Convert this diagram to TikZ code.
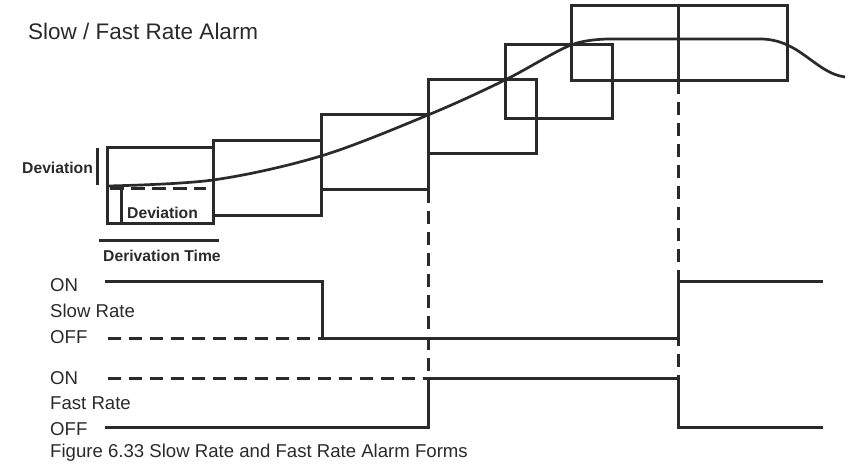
\documentclass[tikz,border=0pt]{standalone}
\usepackage{fontspec}
\setmainfont{Liberation Sans}
\usepackage{tikz}
\usetikzlibrary{calc, positioning}
\definecolor{ink}{HTML}{2A2A2A}
\tikzset{>=latex}
\tikzset{
  sig/.style={ink, line width=3pt, line cap=rect},
  dsig/.style={ink, line width=3pt, dash pattern=on 13pt off 8pt},
  win/.style={ink, line width=3pt},
  lbl/.style={ink, inner sep=0pt, anchor=base west, font=\fontsize{18.6}{21}\selectfont},
  blbl/.style={ink, inner sep=0pt, anchor=base west, font=\fontsize{15.7}{18}\selectfont\bfseries},
}

\begin{document}
\begin{tikzpicture}[x=1pt, y=-1pt]
  \useasboundingbox (0, 0) rectangle (850, 465); %
  % time marks
  \coordinate (tA) at (322, 0); %
  \coordinate (tB) at (428, 0); %
  \coordinate (tC) at (678, 0); %
  \coordinate (tEnd) at (821, 0); %
  \coordinate (tStart) at (106, 0); %
  % signal levels
  \coordinate (slowOn) at (0, 281); \coordinate (slowOff) at (0, 338); %
  \coordinate (fastOn) at (0, 378); \coordinate (fastOff) at (0, 427); %

  \node[lbl, font=\fontsize{22.5}{25}\selectfont] (title) at (28, 40) {Slow / Fast Rate Alarm}; %

  % derivation windows
  \draw[win] (107, 148) rectangle (213, 223); %
  \draw[win] (213, 141) rectangle (321, 215); %
  \draw[win] (321, 115) rectangle (428, 189); %
  \draw[win] (428, 80) rectangle (536, 154); %
  \draw[win] (505, 45) rectangle (612, 119); %
  \draw[win] (571, 6) rectangle (787, 81); %
  \draw[win] (tC |- 0, 6) -- (tC |- 0, 81); %

  % process value
  \draw[win, line width=2.7pt] plot[smooth, tension=0.55] coordinates
    {(107, 186) (213, 180) (321, 156) (428, 115) (505, 80) (571, 45) (610, 39)}
    -- (760, 39) .. controls (800, 39) and (815, 73) .. (845, 77); %

  % deviation marks
  \draw[dsig, dash pattern=on 14pt off 7pt] (110, 188) -- (206, 188); %
  \draw[win] (121, 190) -- (121, 223); %
  \draw[win] (97, 148) -- (97, 185); %
  \draw[win] (99, 240) -- (219, 240); %
  \node[blbl] (devA) at (22, 173) {Deviation}; %
  \node[blbl] (devB) at (127, 218) {Deviation}; %
  \node[blbl] (dtime) at (103, 261) {Derivation Time}; %

  % guide lines
  \draw[dsig] (tB |- 0, 190) -- (tB |- fastOn); %
  \draw[dsig] (tC |- 0, 81) -- (tC |- fastOn); %

  % slow rate output
  \node[lbl] (slowOnL) at (50, 291) {ON}; %
  \node[lbl] (slowL) at (50, 317) {Slow Rate}; %
  \node[lbl] (slowOffL) at (50, 343) {OFF}; %
  \draw[dsig] (108, 338) -- (tA |- slowOff); %
  \draw[sig] (tStart |- slowOn) -- (tA |- slowOn) -- (tA |- slowOff)
    -- (tC |- slowOff) -- (tC |- slowOn) -- (tEnd |- slowOn); %

  % fast rate output
  \node[lbl] (fastOnL) at (50, 384) {ON}; %
  \node[lbl] (fastL) at (50, 409) {Fast Rate}; %
  \node[lbl] (fastOffL) at (50, 435) {OFF}; %
  \draw[dsig] (108, 378) -- (tB |- fastOn); %
  \draw[sig] (tStart |- fastOff) -- (tB |- fastOff) -- (tB |- fastOn)
    -- (tC |- fastOn) -- (tC |- fastOff) -- (tEnd |- fastOff); %

  \node[lbl] (caption) at (50, 457) {Figure 6.33 Slow Rate and Fast Rate Alarm Forms}; %
\end{tikzpicture}
\end{document}
